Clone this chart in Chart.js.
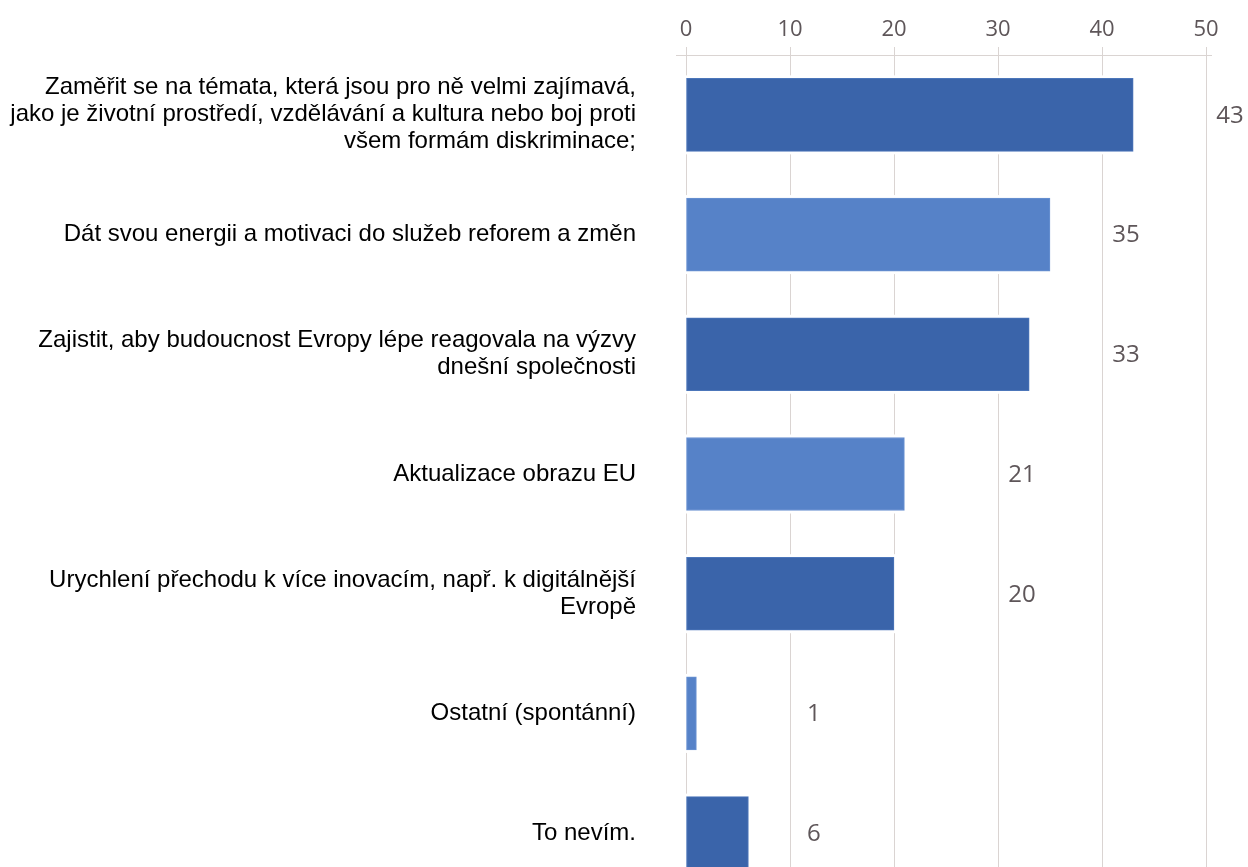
<!DOCTYPE html>
<html lang="cs">
<head>
<meta charset="utf-8">
<title>Chart</title>
<script src="https://cdn.jsdelivr.net/npm/chart.js@4/dist/chart.umd.min.js"></script>
<style>
  html, body { margin: 0; padding: 0; background: #fff; overflow: hidden; }
  #wrap { position: relative; width: 1248px; height: 893px; }
</style>
</head>
<body>
<div id="wrap"><canvas id="chart"></canvas></div>
<script>
// --- data ---
const categories = [
  ['Zaměřit se na témata, která jsou pro ně velmi zajímavá,',
   'jako je životní prostředí, vzdělávání a kultura nebo boj proti',
   'všem formám diskriminace;'],
  'Dát svou energii a motivaci do služeb reforem a změn',
  ['Zajistit, aby budoucnost Evropy lépe reagovala na výzvy',
   'dnešní společnosti'],
  'Aktualizace obrazu EU',
  ['Urychlení přechodu k více inovacím, např. k digitálnější',
   'Evropě'],
  'Ostatní (spontánní)',
  'To nevím.'
];
const values = [43, 35, 33, 21, 20, 1, 6];
const xTicks = [0, 10, 20, 30, 40, 50];

const DARK = '#3A64AA';
const LIGHT = '#5682C8';
const GRID = '#DAD4D2';
const TEXT_GRAY = '#5E5659';

const barColors = values.map((v, i) => i % 2 === 0 ? DARK : LIGHT);
const barBorders = values.map((v, i) => i % 2 === 0 ? '#4C76BA' : '#6A92D2');

// gaps around bars + top axis line + value labels
const barExtras = {
  id: 'barExtras',
  beforeDatasetsDraw(chart) {
    const { ctx, chartArea } = chart;
    const meta = chart.getDatasetMeta(0);
    ctx.save();
    ctx.fillStyle = '#fff';
    meta.data.forEach(bar => {
      const { x, y, base, height } = bar.getProps(['x', 'y', 'base', 'height'], true);
      ctx.fillRect(base - 3, y - height / 2 - 3, (x - base) + 6, height + 6);
    });
    // top axis line, a bit wider than the plot
    ctx.strokeStyle = GRID;
    ctx.lineWidth = 1;
    ctx.beginPath();
    ctx.moveTo(chartArea.left - 10, chartArea.top + 0.5);
    ctx.lineTo(chartArea.right + 6, chartArea.top + 0.5);
    ctx.stroke();
    ctx.restore();
  },
  afterDatasetsDraw(chart) {
    const { ctx } = chart;
    const xs = chart.scales.x;
    const meta = chart.getDatasetMeta(0);
    ctx.save();
    ctx.font = '24px "Open Sans", sans-serif';
    ctx.fillStyle = TEXT_GRAY;
    ctx.textAlign = 'center';
    ctx.textBaseline = 'middle';
    meta.data.forEach((bar, i) => {
      const v = values[i];
      const lx = xs.getPixelForValue(Math.floor(v / 10) * 10 + 12.3);
      ctx.fillText(String(v), lx, bar.y + 1);
    });
    ctx.restore();
  }
};

const chart = new Chart(document.getElementById('chart'), {
  type: 'bar',
  data: {
    labels: categories,
    datasets: [{
      data: values,
      backgroundColor: barColors,
      borderColor: barBorders,
      borderWidth: 1,
      borderSkipped: false,
      barThickness: 73
    }]
  },
  options: {
    indexAxis: 'y',
    responsive: true,
    maintainAspectRatio: false,
    animation: false,
    layout: { padding: { top: 0, right: 42, bottom: 0, left: 0 } },
    plugins: {
      legend: { display: false },
      tooltip: { enabled: false }
    },
    scales: {
      x: {
        position: 'top',
        min: 0,
        max: 50,
        afterBuildTicks: scale => { scale.ticks = xTicks.map(v => ({ value: v })); },
        afterFit: scale => { scale.height = 55; scale.paddingLeft = 0; scale.paddingRight = 0; },
        grid: { color: GRID, lineWidth: 1, tickLength: 8 },
        border: { display: false },
        ticks: {
          color: TEXT_GRAY,
          padding: 4,
          font: { family: '"Open Sans", sans-serif', size: 22 }
        }
      },
      y: {
        afterFit: scale => { scale.width = 686; scale.paddingTop = 0; scale.paddingBottom = 0; },
        grid: { display: false, drawTicks: false },
        border: { display: false },
        ticks: {
          autoSkip: false,
          padding: 50,
          color: '#000',
          font: { family: '"Liberation Sans", Arial, sans-serif', size: 24, lineHeight: 1.125 }
        }
      }
    }
  },
  plugins: [barExtras]
});
</script>
</body>
</html>
